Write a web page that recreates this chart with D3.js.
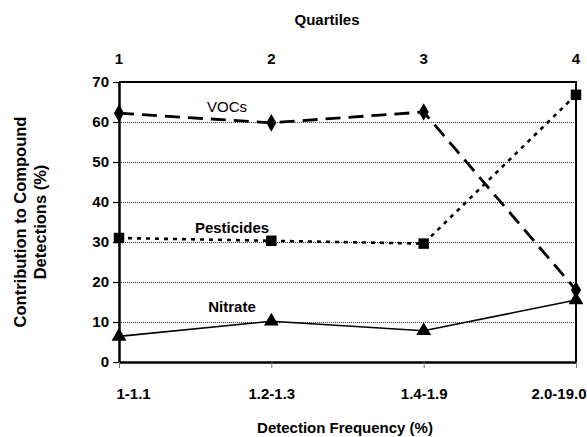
<!DOCTYPE html>
<html>
<head>
<meta charset="utf-8">
<script src="https://cdn.jsdelivr.net/npm/d3@7"></script>
<style>
  body { margin: 0; background: #fff; }
  text { font-family: "Liberation Sans", Arial, sans-serif; font-weight: bold; fill: #000; }
</style>
</head>
<body>
<svg id="chart" width="587" height="437"></svg>
<script>
const categories = ['1-1.1', '1.2-1.3', '1.4-1.9', '2.0-19.0'];
const quartiles = ['1', '2', '3', '4'];
const vocs = [62.2, 59.8, 62.5, 18];
const pesticides = [31, 30.3, 29.6, 66.8];
const nitrate = [6.4, 10.2, 7.8, 15.5];
const yTicks = [0, 10, 20, 30, 40, 50, 60, 70];

const width = 587;
const height = 437;
const margin = { top: 82, right: 11, bottom: 75, left: 119 };
const fontSize = 15;

const svg = d3.select('#chart');

const x = d3.scalePoint()
  .domain(categories)
  .range([margin.left, width - margin.right]);

const y = d3.scaleLinear()
  .domain([0, 70])
  .range([height - margin.bottom, margin.top]);

// dotted gridlines
svg.append('g')
  .selectAll('line')
  .data(yTicks.filter(d => d > 0 && d < 70))
  .join('line')
  .attr('x1', margin.left)
  .attr('x2', width - margin.right)
  .attr('y1', d => y(d) + 0.5)
  .attr('y2', d => y(d) + 0.5)
  .attr('stroke', '#333')
  .attr('stroke-width', 1)
  .attr('stroke-dasharray', '1,1');

// frame top + right
svg.append('path')
  .attr('d', `M${margin.left},${y(70)}H${width - margin.right}V${y(0)}`)
  .attr('fill', 'none')
  .attr('stroke', '#000')
  .attr('stroke-width', 2);

// left axis
const yAxis = svg.append('g')
  .attr('transform', `translate(${margin.left},0)`)
  .call(d3.axisLeft(y).tickValues(yTicks).tickSize(6).tickPadding(4).tickSizeOuter(0));
yAxis.select('.domain').attr('stroke-width', 2.5);
yAxis.selectAll('.tick line').attr('stroke-width', 1.2);
yAxis.selectAll('.tick text')
  .attr('font-size', fontSize)
  .style('font-family', '"Liberation Sans", Arial, sans-serif')
  .style('font-weight', 'bold');

// bottom axis
const xAxis = svg.append('g')
  .attr('transform', `translate(0,${y(0)})`)
  .call(d3.axisBottom(x).tickSize(6).tickPadding(20).tickSizeOuter(0));
xAxis.select('.domain').attr('stroke-width', 2.5);
xAxis.selectAll('.tick line').attr('stroke', '#777').attr('stroke-width', 1);
xAxis.selectAll('.tick text')
  .attr('font-size', fontSize)
  .style('font-family', '"Liberation Sans", Arial, sans-serif')
  .style('font-weight', 'bold')
  .attr('text-anchor', (d, i) => i === 0 ? 'start' : i === categories.length - 1 ? 'end' : 'middle')
  .attr('dx', (d, i) => i === 0 ? -3 : i === categories.length - 1 ? 10 : 0);

// top quartile labels
svg.append('g')
  .selectAll('text')
  .data(quartiles)
  .join('text')
  .attr('x', (d, i) => x(categories[i]))
  .attr('y', 64)
  .attr('text-anchor', 'middle')
  .attr('font-size', fontSize)
  .text(d => d);

svg.append('text')
  .attr('x', 327)
  .attr('y', 25)
  .attr('text-anchor', 'middle')
  .attr('font-size', fontSize)
  .text('Quartiles');

svg.append('text')
  .attr('x', 345)
  .attr('y', 433)
  .attr('text-anchor', 'middle')
  .attr('font-size', fontSize)
  .text('Detection Frequency (%)');

// y axis title, two lines
const yTitle = svg.append('text')
  .attr('transform', 'translate(0,222) rotate(-90)')
  .attr('text-anchor', 'middle')
  .attr('font-size', 16.5);
yTitle.append('tspan').attr('x', 0).attr('y', 26).text('Contribution to Compound');
yTitle.append('tspan').attr('x', 0).attr('y', 46).text('Detections (%)');

const line = d3.line()
  .x((d, i) => x(categories[i]))
  .y(d => y(d));

// Nitrate
svg.append('path')
  .datum(nitrate)
  .attr('fill', 'none')
  .attr('stroke', '#000')
  .attr('stroke-width', 1.6)
  .attr('d', line);

// Pesticides
svg.append('path')
  .datum(pesticides)
  .attr('fill', 'none')
  .attr('stroke', '#000')
  .attr('stroke-width', 2.6)
  .attr('stroke-dasharray', '4,5')
  .attr('d', line);

// VOCs
svg.append('path')
  .datum(vocs)
  .attr('fill', 'none')
  .attr('stroke', '#000')
  .attr('stroke-width', 2.8)
  .attr('stroke-dasharray', '15,8')
  .attr('d', line);

// markers
const marker = (data, type, size) => {
  svg.append('g')
    .selectAll('path')
    .data(data)
    .join('path')
    .attr('transform', (d, i) => `translate(${x(categories[i])},${y(d)})`)
    .attr('d', d3.symbol().type(type).size(size))
    .attr('fill', '#000');
};
marker(vocs, d3.symbolDiamond, 90);
marker(pesticides, d3.symbolSquare, 110);
marker(nitrate, d3.symbolTriangle, 95);

// series labels
const labels = [
  { text: 'VOCs', x: 227, y: 112, weight: 'normal' },
  { text: 'Pesticides', x: 232, y: 233, weight: 'bold' },
  { text: 'Nitrate', x: 232, y: 312, weight: 'bold' }
];
svg.append('g')
  .selectAll('text')
  .data(labels)
  .join('text')
  .attr('x', d => d.x)
  .attr('y', d => d.y)
  .attr('text-anchor', 'middle')
  .attr('font-size', fontSize)
  .style('font-weight', d => d.weight)
  .text(d => d.text);
</script>
</body>
</html>
